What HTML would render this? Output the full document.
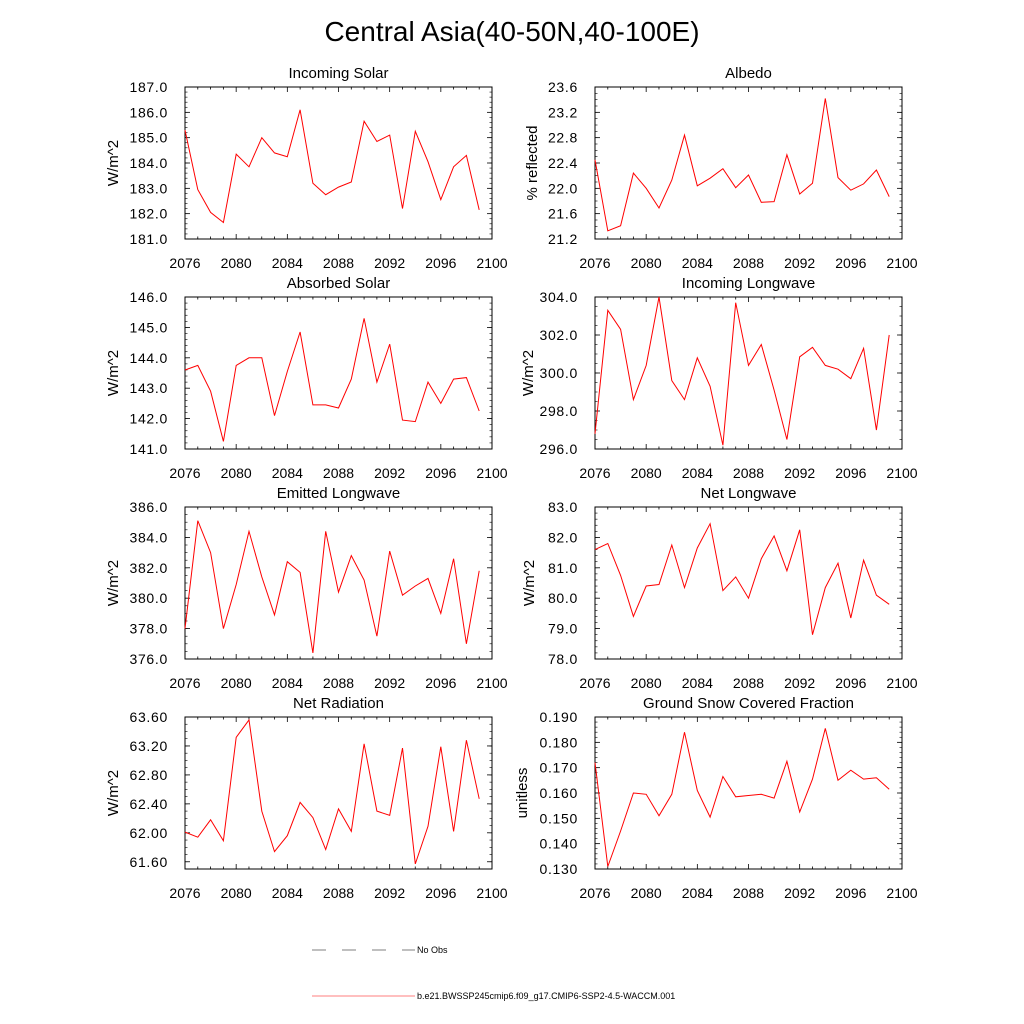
<!DOCTYPE html>
<html><head><meta charset="utf-8"><style>
body{margin:0;background:#fff;}
svg{display:block;font-family:"Liberation Sans",sans-serif;}
</style></head><body>
<svg id="chart" width="1024" height="1024" viewBox="0 0 1024 1024" xmlns="http://www.w3.org/2000/svg">
<text x="512" y="41" font-size="28" text-anchor="middle">Central Asia(40-50N,40-100E)</text>
<g>
<line x1="312" y1="950" x2="415" y2="950" stroke="#000" stroke-width="0.6" stroke-dasharray="14,16"/>
<text x="417" y="953" font-size="9">No Obs</text>
<line x1="312" y1="996" x2="415" y2="996" stroke="#f00" stroke-width="0.6"/>
<text x="417" y="999" font-size="9">b.e21.BWSSP245cmip6.f09_g17.CMIP6-SSP2-4.5-WACCM.001</text>
</g>
<g id="panels"></g>
</svg>
<script>
const years = [2076,2077,2078,2079,2080,2081,2082,2083,2084,2085,2086,2087,2088,2089,2090,2091,2092,2093,2094,2095,2096,2097,2098,2099];
const xTicks = [2076,2080,2084,2088,2092,2096,2100];
const incomingSolar = [185.3,182.95,182.05,181.65,184.35,183.85,185.0,184.4,184.25,186.1,183.2,182.75,183.05,183.25,185.65,184.85,185.1,182.2,185.25,184.05,182.55,183.85,184.3,182.15];
const albedo = [22.45,21.33,21.41,22.24,22.0,21.69,22.13,22.84,22.04,22.16,22.31,22.01,22.21,21.78,21.79,22.53,21.91,22.08,23.42,22.17,21.97,22.07,22.29,21.87];
const absorbedSolar = [143.6,143.75,142.9,141.25,143.75,144.0,144.0,142.1,143.55,144.85,142.45,142.45,142.35,143.3,145.3,143.2,144.45,141.95,141.9,143.2,142.5,143.3,143.35,142.25];
const incomingLongwave = [296.8,303.3,302.3,298.6,300.4,304.0,299.6,298.6,300.8,299.3,296.2,303.7,300.4,301.5,299.1,296.5,300.85,301.35,300.4,300.2,299.7,301.3,297.0,302.0];
const emittedLongwave = [378.0,385.1,383.0,378.0,380.9,384.4,381.4,378.9,382.4,381.7,376.4,384.4,380.4,382.8,381.2,377.5,383.1,380.2,380.8,381.3,379.0,382.6,377.0,381.8];
const netLongwave = [81.6,81.8,80.75,79.4,80.4,80.45,81.75,80.35,81.65,82.45,80.25,80.7,80.0,81.3,82.05,80.9,82.25,78.8,80.35,81.15,79.35,81.25,80.1,79.8];
const netRadiation = [62.01,61.94,62.18,61.89,63.32,63.56,62.3,61.74,61.96,62.42,62.21,61.77,62.33,62.02,63.23,62.3,62.24,63.17,61.57,62.09,63.19,62.02,63.28,62.47];
const snowFraction = [0.172,0.131,0.145,0.160,0.1595,0.151,0.1595,0.184,0.161,0.1505,0.1665,0.1585,0.159,0.1595,0.158,0.1725,0.1525,0.1655,0.1855,0.165,0.169,0.1655,0.166,0.1615];
const tickIS = ["181.0","182.0","183.0","184.0","185.0","186.0","187.0"];
const tickAL = ["21.2","21.6","22.0","22.4","22.8","23.2","23.6"];
const tickAS = ["141.0","142.0","143.0","144.0","145.0","146.0"];
const tickIL = ["296.0","298.0","300.0","302.0","304.0"];
const tickEL = ["376.0","378.0","380.0","382.0","384.0","386.0"];
const tickNL = ["78.0","79.0","80.0","81.0","82.0","83.0"];
const tickNR = ["61.60","62.00","62.40","62.80","63.20","63.60"];
const tickSN = ["0.130","0.140","0.150","0.160","0.170","0.180","0.190"];

const NS="http://www.w3.org/2000/svg";
const root=document.getElementById('panels');
function mk(tag,attrs,parent){const e=document.createElementNS(NS,tag);for(const k in attrs)e.setAttribute(k,attrs[k]);parent.appendChild(e);return e;}

const panels=[
 {name:'incoming-solar',title:'Incoming Solar',yl:'W/m^2',data:incomingSolar,ticks:tickIS,ymin:181,ymax:187.0,minor:5,x0:185,y0:87,yo:67},
 {name:'albedo',title:'Albedo',yl:'% reflected',data:albedo,ticks:tickAL,ymin:21.2,ymax:23.6,minor:4,x0:595,y0:87,yo:58},
 {name:'absorbed-solar',title:'Absorbed Solar',yl:'W/m^2',data:absorbedSolar,ticks:tickAS,ymin:141,ymax:146,minor:5,x0:185,y0:297,yo:67},
 {name:'incoming-longwave',title:'Incoming Longwave',yl:'W/m^2',data:incomingLongwave,ticks:tickIL,ymin:296,ymax:304,minor:4,x0:595,y0:297,yo:62},
 {name:'emitted-longwave',title:'Emitted Longwave',yl:'W/m^2',data:emittedLongwave,ticks:tickEL,ymin:376,ymax:386,minor:4,x0:185,y0:507,yo:67},
 {name:'net-longwave',title:'Net Longwave',yl:'W/m^2',data:netLongwave,ticks:tickNL,ymin:78,ymax:83,minor:5,x0:595,y0:507,yo:61},
 {name:'net-radiation',title:'Net Radiation',yl:'W/m^2',data:netRadiation,ticks:tickNR,ymin:61.5,ymax:63.6,minor:4,x0:185,y0:717,yo:67},
 {name:'snow-fraction',title:'Ground Snow Covered Fraction',yl:'unitless',data:snowFraction,ticks:tickSN,ymin:0.13,ymax:0.19,minor:5,x0:595,y0:717,yo:68},
];
const W=307,H=152;
panels.forEach(p=>{
 const g=mk('g',{},root);
 
 
 const xs=v=>p.x0+(v-2076)/(2100-2076)*W;
 const ys=v=>p.y0+H-(v-p.ymin)/(p.ymax-p.ymin)*H;
 const t=mk('text',{x:p.x0+W/2,y:p.y0-9,'font-size':15,'text-anchor':'middle'},g);t.textContent=p.title;
 
 
 const frame=mk('rect',{x:p.x0,y:p.y0,width:W,height:H,fill:'none',stroke:'#000','stroke-width':1},g);
 
 
 for(let yr=2076;yr<=2100;yr++){
  const X=xs(yr),maj=(yr-2076)%4===0,L=maj?5:2.5;
  mk('line',{x1:X,y1:p.y0+H,x2:X,y2:p.y0+H-L,stroke:'#000','stroke-width':0.8},g);
  mk('line',{x1:X,y1:p.y0,x2:X,y2:p.y0+L,stroke:'#000','stroke-width':0.8},g);
 }
 xTicks.forEach(v=>{const tx=mk('text',{x:xs(v),y:p.y0+H+29,'font-size':14,'text-anchor':'middle'},g);tx.textContent=v;
  
  });
 const vals=p.ticks.map(Number);
 const step=vals[1]-vals[0];
 for(let v=vals[0]-step;v<=vals[vals.length-1]+1e-9;v+=step/p.minor){
  if(v<p.ymin-1e-9)continue;
  const Y=ys(v);
  mk('line',{x1:p.x0,y1:Y,x2:p.x0+2.5,y2:Y,stroke:'#000','stroke-width':0.6},g);
  mk('line',{x1:p.x0+W,y1:Y,x2:p.x0+W-2.5,y2:Y,stroke:'#000','stroke-width':0.6},g);
 }
 p.ticks.forEach(s=>{const Y=ys(Number(s));
  mk('line',{x1:p.x0,y1:Y,x2:p.x0+5,y2:Y,stroke:'#000','stroke-width':0.8},g);
  mk('line',{x1:p.x0+W,y1:Y,x2:p.x0+W-5,y2:Y,stroke:'#000','stroke-width':0.8},g);
  const ty=mk('text',{x:p.x0-17,y:Y+5,'font-size':14,'letter-spacing':0.7,'text-anchor':'end'},g);ty.textContent=s;
  
  });
 const yl=mk('text',{x:0,y:0,'font-size':15,'text-anchor':'middle',transform:`translate(${p.x0-p.yo},${p.y0+H/2}) rotate(-90)`},g);yl.textContent=p.yl;
 
 
 const pts=p.data.map((v,i)=>xs(years[i]).toFixed(1)+','+ys(v).toFixed(1)).join(' ');
 const pl=mk('polyline',{points:pts,fill:'none',stroke:'#f00','stroke-width':1},g);
 
 
});
</script>
</body></html>
